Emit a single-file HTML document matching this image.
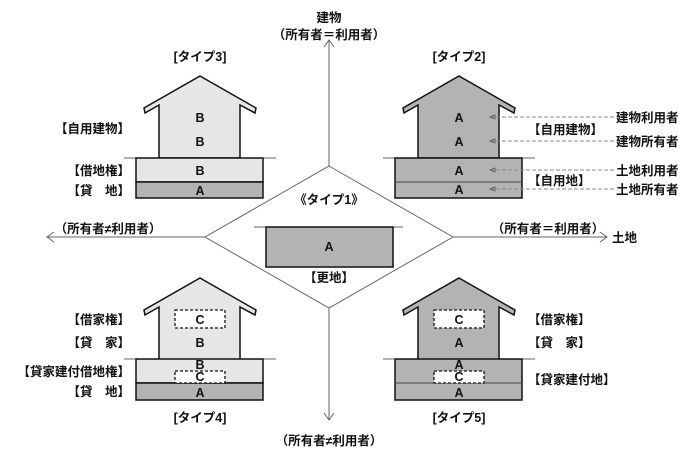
<!DOCTYPE html>
<html><head><meta charset="utf-8"><style>
body{margin:0;background:#fff}
svg text{font-family:"Liberation Sans","Noto Sans CJK JP",sans-serif;font-size:12.5px;font-weight:bold;fill:#111}
</style></head><body>
<svg width="694" height="463" viewBox="0 0 694 463" xmlns="http://www.w3.org/2000/svg">
<defs>
<g id="roof">
<polygon points="200,76 256,108 255,113 240,105 240,158 159,158 159,105 145,113 144,108" stroke="#111" stroke-width="1.5"/>
</g>
</defs>
<g stroke="#666" stroke-width="1" fill="none">
<line x1="329" y1="40" x2="329" y2="420"/>
<polyline points="324,47 329,40 334,47"/>
<polyline points="324,413 329,420 334,413"/>
<line x1="47" y1="237" x2="607" y2="237"/>
<polyline points="54,232 47,237 54,242"/>
<polyline points="600,232 607,237 600,242"/>
<polygon points="329,166 453,237 329,308 205,237" fill="#fff"/>
</g>
<text x="329" y="22" text-anchor="middle">建物</text>
<text x="329" y="39" text-anchor="middle">（所有者＝利用者）</text>
<text x="329" y="445" text-anchor="middle">（所有者≠利用者）</text>
<text x="108" y="233" text-anchor="middle">（所有者≠利用者）</text>
<text x="548" y="233" text-anchor="middle">（所有者＝利用者）</text>
<text x="612" y="242">土地</text>
<text x="329" y="204" text-anchor="middle">《タイプ1》</text>
<line x1="254" y1="227" x2="403" y2="227" stroke="#666"/>
<rect x="266" y="227" width="127" height="40" fill="#b3b3b3" stroke="#111" stroke-width="1.5"/>
<text x="329" y="251" text-anchor="middle" font-weight="normal">A</text>
<text x="329" y="282" text-anchor="middle">【更地】</text>

<text x="200" y="61" text-anchor="middle">[タイプ3]</text>
<use href="#roof" fill="#e6e6e6"/>
<line x1="124" y1="158" x2="276" y2="158" stroke="#666"/>
<rect x="136" y="158" width="127" height="24" fill="#e6e6e6" stroke="#111" stroke-width="1.5"/>
<rect x="136" y="182" width="127" height="16" fill="#b3b3b3" stroke="#111" stroke-width="1.5"/>
<text x="200" y="122" text-anchor="middle">B</text>
<text x="200" y="146" text-anchor="middle">B</text>
<text x="200" y="175" text-anchor="middle">B</text>
<text x="200" y="195" text-anchor="middle">A</text>
<text x="130" y="133" text-anchor="end">【自用建物】</text>
<text x="130" y="175" text-anchor="end">【借地権】</text>
<text x="130" y="195" text-anchor="end">【貸　地】</text>

<text x="459" y="61" text-anchor="middle">[タイプ2]</text>
<g transform="translate(259,0)"><use href="#roof" fill="#b3b3b3"/></g>
<line x1="383" y1="158" x2="535" y2="158" stroke="#666"/>
<rect x="395" y="158" width="127" height="40" fill="#b3b3b3" stroke="#111" stroke-width="1.5"/>
<line x1="395" y1="182" x2="522" y2="182" stroke="#444"/>
<text x="459" y="122" text-anchor="middle">A</text>
<text x="459" y="146" text-anchor="middle">A</text>
<text x="459" y="175" text-anchor="middle">A</text>
<text x="459" y="194" text-anchor="middle">A</text>
<g stroke="#888" stroke-dasharray="4,2" fill="none">
<line x1="490" y1="117" x2="614" y2="117"/>
<line x1="490" y1="141" x2="614" y2="141"/>
<line x1="490" y1="170" x2="614" y2="170"/>
<line x1="490" y1="189" x2="614" y2="189"/>
</g>
<g fill="none" stroke="#555" stroke-width="0.8">
<polygon points="490,117 495,115 495,119"/>
<polygon points="490,141 495,139 495,143"/>
<polygon points="490,170 495,168 495,172"/>
<polygon points="490,189 495,187 495,191"/>
</g>
<text x="528" y="134">【自用建物】</text>
<text x="528" y="185">【自用地】</text>
<text x="616" y="122">建物利用者</text>
<text x="616" y="146">建物所有者</text>
<text x="616" y="175">土地利用者</text>
<text x="616" y="194">土地所有者</text>

<g transform="translate(0,202)"><use href="#roof" fill="#e6e6e6"/></g>
<line x1="124" y1="359" x2="276" y2="359" stroke="#666"/>
<rect x="136" y="359" width="127" height="24" fill="#e6e6e6" stroke="#111" stroke-width="1.5"/>
<rect x="136" y="383" width="127" height="17" fill="#b3b3b3" stroke="#111" stroke-width="1.5"/>
<rect x="175" y="310" width="50" height="18" fill="#fff" stroke="#111" stroke-width="1.3" stroke-dasharray="3,2"/>
<rect x="175" y="371" width="50" height="12" fill="#fff" stroke="#111" stroke-width="1.3" stroke-dasharray="3,2"/>
<text x="200" y="324" text-anchor="middle">C</text>
<text x="200" y="347" text-anchor="middle">B</text>
<text x="200" y="369" text-anchor="middle">B</text>
<text x="200" y="381" text-anchor="middle">C</text>
<text x="200" y="397" text-anchor="middle">A</text>
<text x="130" y="324" text-anchor="end">【借家権】</text>
<text x="130" y="347" text-anchor="end">【貸　家】</text>
<text x="130" y="376" text-anchor="end">【貸家建付借地権】</text>
<text x="130" y="396" text-anchor="end">【貸　地】</text>
<text x="200" y="422" text-anchor="middle">[タイプ4]</text>

<g transform="translate(259,202)"><use href="#roof" fill="#b3b3b3"/></g>
<line x1="383" y1="359" x2="535" y2="359" stroke="#666"/>
<rect x="395" y="359" width="127" height="41" fill="#b3b3b3" stroke="#111" stroke-width="1.5"/>
<line x1="395" y1="383" x2="522" y2="383" stroke="#444"/>
<rect x="434" y="310" width="50" height="18" fill="#fff" stroke="#111" stroke-width="1.3" stroke-dasharray="3,2"/>
<rect x="434" y="371" width="50" height="12" fill="#fff" stroke="#111" stroke-width="1.3" stroke-dasharray="3,2"/>
<text x="459" y="324" text-anchor="middle">C</text>
<text x="459" y="347" text-anchor="middle">A</text>
<text x="459" y="369" text-anchor="middle">A</text>
<text x="459" y="381" text-anchor="middle">C</text>
<text x="459" y="397" text-anchor="middle">A</text>
<text x="528" y="324">【借家権】</text>
<text x="528" y="347">【貸　家】</text>
<text x="528" y="384">【貸家建付地】</text>
<text x="459" y="422" text-anchor="middle">[タイプ5]</text>
</svg>
</body></html>
